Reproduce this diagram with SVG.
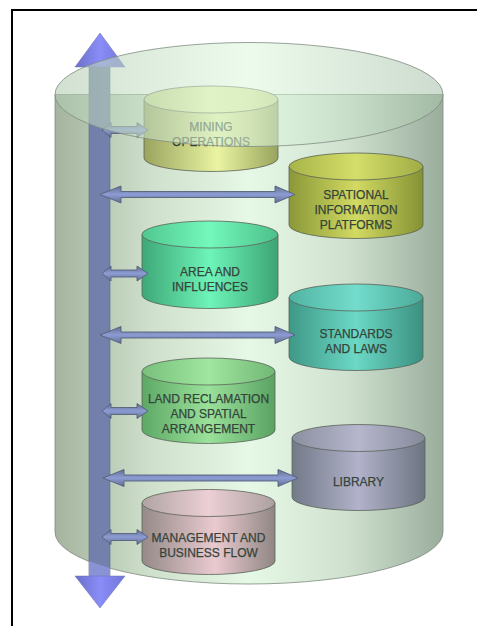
<svg xmlns="http://www.w3.org/2000/svg" width="477" height="626" viewBox="0 0 477 626">
<defs>
<style>
.lbl{font-family:"Liberation Sans",Arial,sans-serif;font-size:12px;fill:#34443a;stroke:#34443a;stroke-width:0.25;text-anchor:middle}
.cyl{stroke:#5a6258;stroke-width:0.8}
.harrow{fill:url(#gArrowH);stroke:#56607a;stroke-width:0.9}
</style>
<linearGradient id="gBody" x1="0" y1="0" x2="1" y2="0">
<stop offset="0" stop-color="#a4b49e"/><stop offset="0.25" stop-color="#cfe0cc"/><stop offset="0.5" stop-color="#e6f8e6"/><stop offset="0.75" stop-color="#d0e2cf"/><stop offset="1" stop-color="#9aac9c"/>
</linearGradient>
<linearGradient id="gTop" x1="0" y1="0" x2="1" y2="0">
<stop offset="0" stop-color="#b0cab0"/><stop offset="0.5" stop-color="#e0f8e0"/><stop offset="1" stop-color="#a8c2aa"/>
</linearGradient>
<linearGradient id="gArrowH" x1="0" y1="0" x2="0" y2="1">
<stop offset="0" stop-color="#606e8c"/><stop offset="0.5" stop-color="#8c9cd4"/><stop offset="1" stop-color="#606e8c"/>
</linearGradient>
<linearGradient id="gHead" x1="0" y1="0" x2="1" y2="0">
<stop offset="0" stop-color="#6a70c8"/><stop offset="0.5" stop-color="#8a8cf8"/><stop offset="1" stop-color="#7276d8"/>
</linearGradient>
<linearGradient id="gMine" x1="0" y1="0" x2="1" y2="0"><stop offset="0" stop-color="#9aa45e"/><stop offset="0.55" stop-color="#eaf4a2"/><stop offset="1" stop-color="#98a45c"/></linearGradient>
<linearGradient id="gMineT" x1="0" y1="0" x2="1" y2="0"><stop offset="0" stop-color="#c8d890"/><stop offset="0.5" stop-color="#eef8b0"/><stop offset="1" stop-color="#c4d48a"/></linearGradient>
<linearGradient id="gSpat" x1="0" y1="0" x2="1" y2="0"><stop offset="0" stop-color="#8a9838"/><stop offset="0.5" stop-color="#d2da62"/><stop offset="1" stop-color="#849234"/></linearGradient>
<linearGradient id="gSpatT" x1="0" y1="0" x2="1" y2="0"><stop offset="0" stop-color="#a8b448"/><stop offset="0.5" stop-color="#d4de6a"/><stop offset="1" stop-color="#a0ac44"/></linearGradient>
<linearGradient id="gArea" x1="0" y1="0" x2="1" y2="0"><stop offset="0" stop-color="#3fa878"/><stop offset="0.5" stop-color="#6ef4b8"/><stop offset="1" stop-color="#3ca474"/></linearGradient>
<linearGradient id="gAreaT" x1="0" y1="0" x2="1" y2="0"><stop offset="0" stop-color="#50c890"/><stop offset="0.5" stop-color="#74f8bc"/><stop offset="1" stop-color="#4cc08a"/></linearGradient>
<linearGradient id="gStd" x1="0" y1="0" x2="1" y2="0"><stop offset="0" stop-color="#3e9886"/><stop offset="0.5" stop-color="#6cd8c6"/><stop offset="1" stop-color="#3a9080"/></linearGradient>
<linearGradient id="gStdT" x1="0" y1="0" x2="1" y2="0"><stop offset="0" stop-color="#50b4a2"/><stop offset="0.5" stop-color="#74dccc"/><stop offset="1" stop-color="#4aaa98"/></linearGradient>
<linearGradient id="gLand" x1="0" y1="0" x2="1" y2="0"><stop offset="0" stop-color="#5ea866"/><stop offset="0.5" stop-color="#9ae29a"/><stop offset="1" stop-color="#5aa262"/></linearGradient>
<linearGradient id="gLandT" x1="0" y1="0" x2="1" y2="0"><stop offset="0" stop-color="#78c07c"/><stop offset="0.5" stop-color="#a0e6a0"/><stop offset="1" stop-color="#72b876"/></linearGradient>
<linearGradient id="gLib" x1="0" y1="0" x2="1" y2="0"><stop offset="0" stop-color="#727a88"/><stop offset="0.5" stop-color="#b2b2ca"/><stop offset="1" stop-color="#6c7482"/></linearGradient>
<linearGradient id="gLibT" x1="0" y1="0" x2="1" y2="0"><stop offset="0" stop-color="#8a90a0"/><stop offset="0.5" stop-color="#b6b6cc"/><stop offset="1" stop-color="#848a9a"/></linearGradient>
<linearGradient id="gMgmt" x1="0" y1="0" x2="1" y2="0"><stop offset="0" stop-color="#948a88"/><stop offset="0.55" stop-color="#eacad0"/><stop offset="1" stop-color="#908684"/></linearGradient>
<linearGradient id="gMgmtT" x1="0" y1="0" x2="1" y2="0"><stop offset="0" stop-color="#b0a4a4"/><stop offset="0.5" stop-color="#eccfd4"/><stop offset="1" stop-color="#aca0a0"/></linearGradient>
</defs>

<rect width="477" height="626" fill="#ffffff"/>
<path d="M12,626 L12,10 L477,10" fill="none" stroke="#000" stroke-width="2"/>

<g id="container-body">
<path d="M55,94.5 L443,94.5 L443,532 A194,52 0 0 1 55,532 Z" fill="url(#gBody)" stroke="#7f8a80" stroke-width="0.8"/>
</g>

<g id="axis-arrow">
<rect x="89" y="66" width="21" height="510" fill="#7480ac" stroke="#5e6a88" stroke-width="0.6"/>
<path d="M89,561 Q99.5,565 110,568 L110,576 L89,576 Z" fill="#8a92d6"/>
<polygon points="100,33 125,67 75,67" fill="url(#gHead)" stroke="#6a70b0" stroke-width="0.5"/>
<polygon points="75,576 125,576 100,608" fill="url(#gHead)" stroke="#6a70b0" stroke-width="0.5"/>
</g>

<g id="node-mining">
<path class="cyl" d="M144,99.5 L278,99.5 L278,158 A67,13.5 0 0 1 144,158 Z" fill="url(#gMine)"/>
<ellipse class="cyl" cx="211" cy="99.5" rx="67" ry="13.5" fill="url(#gMineT)"/>
<text class="lbl" x="211" y="131">MINING</text>
<text class="lbl" x="211" y="146">OPERATIONS</text>
</g>

<g id="node-spational">
<path class="cyl" d="M289,166.5 L423,166.5 L423,225 A67,13.5 0 0 1 289,225 Z" fill="url(#gSpat)"/>
<ellipse class="cyl" cx="356" cy="166.5" rx="67" ry="13.5" fill="url(#gSpatT)"/>
<text class="lbl" x="356" y="199">SPATIONAL</text>
<text class="lbl" x="356" y="214">INFORMATION</text>
<text class="lbl" x="356" y="229">PLATFORMS</text>
</g>

<g id="node-area">
<path class="cyl" d="M142,234.5 L278,234.5 L278,295 A68,13.5 0 0 1 142,295 Z" fill="url(#gArea)"/>
<ellipse class="cyl" cx="210" cy="234.5" rx="68" ry="13.5" fill="url(#gAreaT)"/>
<text class="lbl" x="210" y="276">AREA AND</text>
<text class="lbl" x="210" y="291">INFLUENCES</text>
</g>

<g id="node-standards">
<path class="cyl" d="M289,297.5 L423,297.5 L423,357 A67,13.5 0 0 1 289,357 Z" fill="url(#gStd)"/>
<ellipse class="cyl" cx="356" cy="297.5" rx="67" ry="13.5" fill="url(#gStdT)"/>
<text class="lbl" x="356" y="338">STANDARDS</text>
<text class="lbl" x="356" y="353">AND LAWS</text>
</g>

<g id="node-land">
<path class="cyl" d="M142,371.5 L275,371.5 L275,430 A66.5,13.5 0 0 1 142,430 Z" fill="url(#gLand)"/>
<ellipse class="cyl" cx="208.5" cy="371.5" rx="66.5" ry="13.5" fill="url(#gLandT)"/>
<text class="lbl" x="208.5" y="403">LAND RECLAMATION</text>
<text class="lbl" x="208.5" y="418">AND SPATIAL</text>
<text class="lbl" x="208.5" y="433">ARRANGEMENT</text>
</g>

<g id="node-library">
<path class="cyl" d="M292,438 L425,438 L425,497 A66.5,13.5 0 0 1 292,497 Z" fill="url(#gLib)"/>
<ellipse class="cyl" cx="358.5" cy="438" rx="66.5" ry="13.5" fill="url(#gLibT)"/>
<text class="lbl" x="358.5" y="486">LIBRARY</text>
</g>

<g id="node-management">
<path class="cyl" d="M142,503 L275,503 L275,561 A66.5,13.5 0 0 1 142,561 Z" fill="url(#gMgmt)"/>
<ellipse class="cyl" cx="208.5" cy="503" rx="66.5" ry="13.5" fill="url(#gMgmtT)"/>
<text class="lbl" x="208.5" y="542">MANAGEMENT AND</text>
<text class="lbl" x="208.5" y="557">BUSINESS FLOW</text>
</g>

<g id="connectors">
<path class="harrow" d="M102,130 L111,122.5 L111,126.5 L137,126.5 L137,122.5 L148,130 L137,137.5 L137,133.5 L111,133.5 L111,137.5 Z"/>
<path class="harrow" d="M100,194.5 L121,186 L121,191.5 L275,191.5 L275,186 L295,194.5 L275,203 L275,197.5 L121,197.5 L121,203 Z"/>
<path class="harrow" d="M102,273.5 L111,266 L111,270 L137,270 L137,266 L148,273.5 L137,281 L137,277 L111,277 L111,281 Z"/>
<path class="harrow" d="M100,335 L121,326.5 L121,332 L275,332 L275,326.5 L295,335 L275,343.5 L275,338 L121,338 L121,343.5 Z"/>
<path class="harrow" d="M102,411 L111,403.5 L111,407.5 L137,407.5 L137,403.5 L148,411 L137,418.5 L137,414.5 L111,414.5 L111,418.5 Z"/>
<path class="harrow" d="M103,478 L124,469.5 L124,475 L278,475 L278,469.5 L298,478 L278,486.5 L278,481 L124,481 L124,486.5 Z"/>
<path class="harrow" d="M102,537 L111,529.5 L111,533.5 L137,533.5 L137,529.5 L148,537 L137,544.5 L137,540.5 L111,540.5 L111,544.5 Z"/>
</g>

<g id="container-top">
<ellipse cx="249" cy="94.5" rx="194" ry="52" fill="url(#gTop)" fill-opacity="0.58" stroke="#7f8c80" stroke-width="0.8"/>
</g>
</svg>
